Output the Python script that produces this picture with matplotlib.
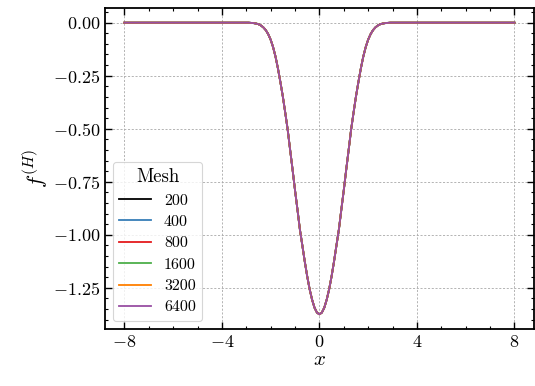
import matplotlib
matplotlib.use("Agg")
import matplotlib.pyplot as plt
from matplotlib.ticker import MultipleLocator, FuncFormatter

plt.rcParams.update({
    "font.family": "serif",
    "font.serif": ["cmr10", "DejaVu Serif"],
    "mathtext.fontset": "cm",
    "axes.formatter.use_mathtext": True,
    "axes.unicode_minus": True,
})

meshes = ["200", "400", "800", "1600", "3200", "6400"]
colors = ["#000000", "#377eb8", "#e41a1c", "#4daf4a", "#ff7f00", "#984ea3"]

# curve values (right half, x >= 0)
x_right = [0.0, 0.1, 0.2, 0.3, 0.4, 0.5, 0.6, 0.7, 0.8, 0.9, 1.0, 1.1, 1.2, 1.3,
           1.4, 1.5, 1.6, 1.7, 1.8, 1.9, 2.0, 2.1, 2.2, 2.3, 2.4, 2.5, 2.6, 2.7,
           2.8, 2.9, 3.0, 3.5, 4.0, 6.0, 8.0]
y_right = [-1.375, -1.367, -1.344, -1.306, -1.257, -1.196, -1.126, -1.050, -0.975,
           -0.881, -0.790, -0.693, -0.600, -0.505, -0.425, -0.348, -0.280, -0.216,
           -0.160, -0.115, -0.080, -0.054, -0.035, -0.022, -0.013, -0.007, -0.004,
           -0.002, -0.001, 0.0, 0.0, 0.0, 0.0, 0.0, 0.0]

x_vals = [-v for v in x_right[:0:-1]] + x_right
y_vals = y_right[:0:-1] + y_right

fig = plt.figure(figsize=(5.35, 3.86), dpi=100)
ax = fig.add_axes([0.196, 0.148, 0.802, 0.831])

for m, c in zip(meshes, colors):
    ax.plot(x_vals, y_vals, color=c, lw=1.3, label=m)

ax.set_xticks([-8, -4, 0, 4, 8])
ax.set_yticks([0.0, -0.25, -0.5, -0.75, -1.0, -1.25])
ax.yaxis.set_major_formatter(FuncFormatter(lambda v, p: "$%.2f$" % v))
ax.xaxis.set_major_formatter(FuncFormatter(lambda v, p: "$%d$" % round(v)))
ax.xaxis.set_minor_locator(MultipleLocator(1))
ax.yaxis.set_minor_locator(MultipleLocator(0.05))
ax.tick_params(which="both", direction="in", top=True, right=True, labelsize=13)
ax.tick_params(which="major", length=5, width=1.0)
ax.tick_params(which="minor", length=2.5, width=0.8)
for s in ax.spines.values():
    s.set_linewidth(1.3)

ax.grid(True, which="major", ls=(0, (2.5, 2)), color="#a8a8a8", lw=0.6)
ax.set_axisbelow(True)

ax.set_xlabel("$x$", fontsize=15, labelpad=1)
ax.set_ylabel("$f^{(H)}$", fontsize=16, labelpad=2)

leg = ax.legend(title="Mesh", loc="lower left", fontsize=11.5, title_fontsize=13.5,
                handlelength=2.0, frameon=True, fancybox=True, borderaxespad=0.5,
                labelspacing=0.45)
leg.get_frame().set_edgecolor("#cccccc")
leg.get_frame().set_linewidth(0.8)

fig.savefig("out.png", dpi=100)
